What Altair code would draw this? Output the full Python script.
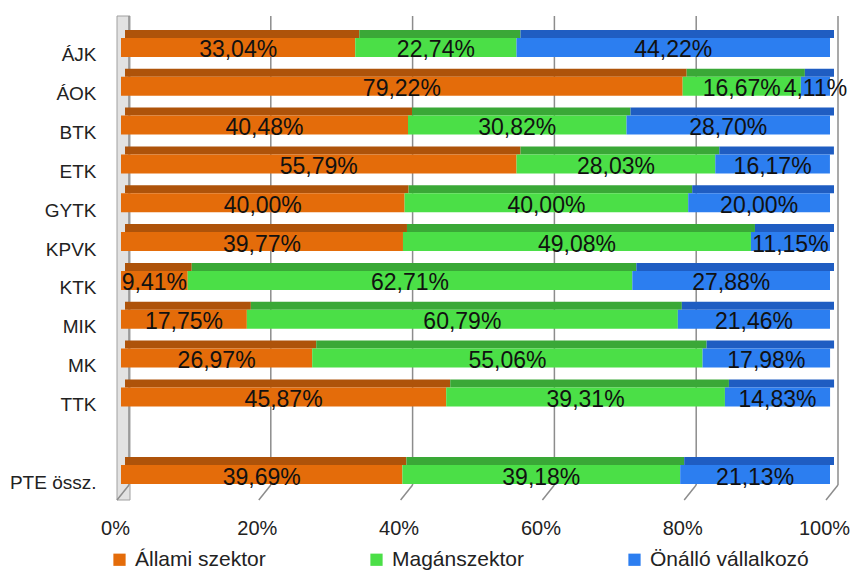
import altair as alt
import pandas as pd

categories = ["ÁJK", "ÁOK", "BTK", "ETK", "GYTK", "KPVK", "KTK", "MIK", "MK", "TTK", "PTE össz."]
allami = [33.04, 79.22, 40.48, 55.79, 40.00, 39.77, 9.41, 17.75, 26.97, 45.87, 39.69]
magan = [22.74, 16.67, 30.82, 28.03, 40.00, 49.08, 62.71, 60.79, 55.06, 39.31, 39.18]
onallo = [44.22, 4.11, 28.70, 16.17, 20.00, 11.15, 27.88, 21.46, 17.98, 14.83, 21.13]
series = ["Állami szektor", "Magánszektor", "Önálló vállalkozó"]
front_colors = ["#E46C0A", "#4BDF47", "#2C7EF0"]
top_colors = ["#AE530A", "#3AA837", "#1F5DC2"]
ticks = [0, 20, 40, 60, 80, 100]

y_domain = categories[:10] + [" "] + categories[10:]

rows = []
for i, c in enumerate(categories):
    for k, vals in enumerate([allami, magan, onallo]):
        rows.append({"cat": c, "series": series[k], "ord": k, "v": vals[i],
                     "top": top_colors[k]})
df = pd.DataFrame(rows)

W, H = 709, 466
FONT = "Liberation Sans"

ys = alt.Scale(domain=y_domain, paddingInner=0, paddingOuter=0)
xs = alt.Scale(domain=[0, 100], nice=False, zero=True)

base = alt.Chart(df).transform_stack(
    stack="v", groupby=["cat"], as_=["x0", "x1"], sort=[alt.SortField("ord", order="ascending")]
).transform_calculate(
    mid="(datum.x0 + datum.x1) / 2",
    lab="replace(format(datum.v, '.2f'), '.', ',') + '%'"
)

tick_df = pd.DataFrame({"t": ticks})

wall = alt.Chart(pd.DataFrame({"t": [0]})).mark_rect(
    fill="#E2E2E2", stroke="#A0A0A0", strokeWidth=1, xOffset=-4, x2Offset=9
).encode(
    x=alt.X("t:Q", scale=xs), x2="t:Q",
    y=alt.value(-12), y2=alt.value(472)
)

grid = alt.Chart(tick_df).mark_rule(color="#8C8C8C", strokeWidth=1.5, xOffset=8).encode(
    x=alt.X("t:Q", scale=xs), y=alt.value(-12), y2=alt.value(457)
)
diag = alt.Chart(tick_df).mark_rule(color="#8C8C8C", strokeWidth=1.5, xOffset=8, x2Offset=-4).encode(
    x=alt.X("t:Q", scale=xs), x2="t:Q", y=alt.value(457), y2=alt.value(472)
)

top = base.mark_bar(size=8, yOffset=-13.5, xOffset=4, x2Offset=4).encode(
    x=alt.X("x0:Q", scale=xs), x2="x1:Q",
    y=alt.Y("cat:N", scale=ys, sort=y_domain),
    color=alt.Color("top:N", scale=None),
)

front = base.mark_bar(size=19).encode(
    x=alt.X("x0:Q", scale=xs,
            axis=alt.Axis(values=ticks, labelExpr="datum.value + '%'", grid=False, domain=False,
                          ticks=False, labelPadding=24, labelFontSize=20, labelFont=FONT,
                          labelColor="#222222", labelOffset=-6, labelFlush=False,
                          labelOverlap=False, title=None)),
    x2="x1:Q",
    y=alt.Y("cat:N", scale=ys, sort=y_domain,
            axis=alt.Axis(domain=False, ticks=False, labelPadding=25, labelFontSize=19,
                          labelFont=FONT, labelColor="#222222", labelOffset=8, title=None)),
    color=alt.Color("series:N", scale=alt.Scale(domain=series, range=front_colors),
                    legend=alt.Legend(title=None, orient="none", direction="horizontal",
                                      legendX=-12, legendY=521, symbolType="square",
                                      symbolSize=150, symbolStrokeWidth=0, labelFont=FONT,
                                      labelFontSize=21, labelColor="#222222",
                                      columnPadding=100, labelOffset=5, labelLimit=300)),
)

text = base.mark_text(font=FONT, fontSize=23, color="#111111", baseline="middle", dy=3).encode(
    x=alt.X("mid:Q", scale=xs),
    y=alt.Y("cat:N", scale=ys, sort=y_domain),
    text="lab:N",
)

chart = alt.layer(wall, grid, diag, top, front, text).resolve_scale(
    color="independent"
).properties(
    width=W, height=H,
    autosize=alt.AutoSizeParams(type="none"),
    padding={"left": 113, "top": 20, "right": 20, "bottom": 84},
).configure_view(stroke=None)

chart.save("out.html", embed_options={"renderer": "svg", "actions": False})
